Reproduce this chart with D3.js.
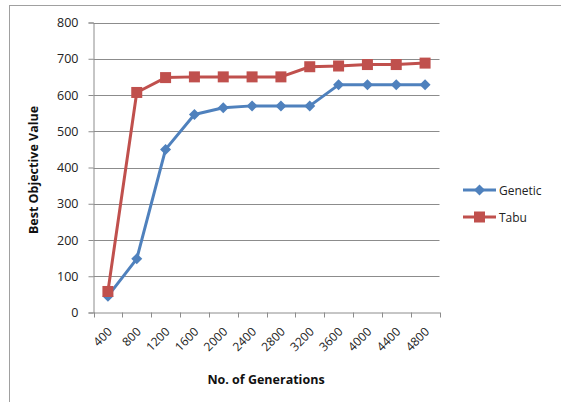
<!DOCTYPE html>
<html><head><meta charset="utf-8">
<script src="https://cdn.jsdelivr.net/npm/d3@7/dist/d3.min.js"></script>
<style>body{margin:0;background:#fff;} text{font-family:"Open Sans","Liberation Sans",sans-serif;}</style>
</head><body>
<svg id="c" width="561" height="402"></svg>
<script>
const categories = ["400","800","1200","1600","2000","2400","2800","3200","3600","4000","4400","4800"];
const genetic = [45,148,450,546,565,570,570,570,628,628,628,628];
const tabu = [58,607,648,650,650,650,650,678,680,684,684,688];
const yTicks = [0,100,200,300,400,500,600,700,800];
const seriesNames = ["Genetic","Tabu"];

const svg = d3.select("#c");
svg.append("rect").attr("x",9.5).attr("y",5.5).attr("width",600).attr("height",500)
  .attr("fill","#fff").attr("stroke","#a0a0a0").attr("stroke-width",1);

const L=93.5, R=439.5, T=22.5, B=312.5;
const x = d3.scaleBand().domain(categories).range([L,R]);
const y = d3.scaleLinear().domain([0,800]).range([B,T]);

// gridlines
svg.append("g").selectAll("line").data(yTicks.filter(d=>d>0)).join("line")
  .attr("x1",L).attr("x2",R).attr("y1",d=>Math.round(y(d))+0.5).attr("y2",d=>Math.round(y(d))+0.5)
  .attr("stroke","#8c8c8c").attr("stroke-width",1);

// y axis
const ya = svg.append("g").attr("transform",`translate(${L},0)`)
  .call(d3.axisLeft(y).tickValues(yTicks).tickSize(5).tickPadding(10));
ya.select(".domain").attr("stroke","#8c8c8c");
ya.selectAll(".tick line").attr("stroke","#8c8c8c");
ya.selectAll("text").attr("font-size","12.5px").attr("fill","#222");

// x axis
const xa = svg.append("g").attr("transform",`translate(0,${B})`)
  .call(d3.axisBottom(x).tickSize(0).tickSizeOuter(0));
xa.select(".domain").attr("stroke","#8c8c8c");
xa.selectAll(".tick line").remove();
const edges = categories.map(c=>x(c)).concat([R]);
svg.append("g").selectAll("line").data(edges).join("line")
  .attr("x1",d=>Math.round(d)+0.5).attr("x2",d=>Math.round(d)+0.5).attr("y1",B).attr("y2",B+5)
  .attr("stroke","#8c8c8c");
xa.selectAll("text").attr("font-size","12px").attr("fill","#222")
  .attr("text-anchor","end").attr("dy",null).attr("y",null)
  .attr("transform","translate(5,20) rotate(-45)");

// axis titles
svg.append("text").attr("x",266).attr("y",384).attr("text-anchor","middle")
  .attr("font-size","12.5px").attr("font-weight","bold").attr("fill","#111").text("No. of Generations");
svg.append("text").attr("transform","translate(38,170) rotate(-90)").attr("text-anchor","middle")
  .attr("font-size","12.5px").attr("font-weight","bold").attr("fill","#111").text("Best Objective Value");

const colors = ["#4f81bd","#c0504d"];
const data = [genetic, tabu];
const line = d3.line().x((d,i)=>x(categories[i])+x.bandwidth()/2).y(d=>y(d));
const diamond = (s,cx,cy,r)=>s.append("path").attr("d",`M${cx},${cy-r}L${cx+r},${cy}L${cx},${cy+r}L${cx-r},${cy}Z`);

data.forEach((vals,k)=>{
  svg.append("path").datum(vals).attr("d",line).attr("fill","none")
    .attr("stroke",colors[k]).attr("stroke-width",3).attr("stroke-linejoin","round");
});
data.forEach((vals,k)=>{
  const g = svg.append("g").attr("fill",colors[k]);
  vals.forEach((v,i)=>{
    const cx = x(categories[i])+x.bandwidth()/2, cy=y(v);
    if(k===0) diamond(g,cx,cy,5.5);
    else g.append("rect").attr("x",cx-5.5).attr("y",cy-5.5).attr("width",11).attr("height",11);
  });
});

// legend
seriesNames.forEach((n,k)=>{
  const ly = 190 + k*27;
  svg.append("line").attr("x1",463).attr("x2",496).attr("y1",ly).attr("y2",ly)
    .attr("stroke",colors[k]).attr("stroke-width",3);
  const g = svg.append("g").attr("fill",colors[k]);
  if(k===0) diamond(g,479.5,ly,5.5);
  else g.append("rect").attr("x",474).attr("y",ly-5.5).attr("width",11).attr("height",11);
  svg.append("text").attr("x",499).attr("y",ly+4.5).attr("font-size","12px").attr("fill","#222").text(n);
});
</script>
</body></html>
